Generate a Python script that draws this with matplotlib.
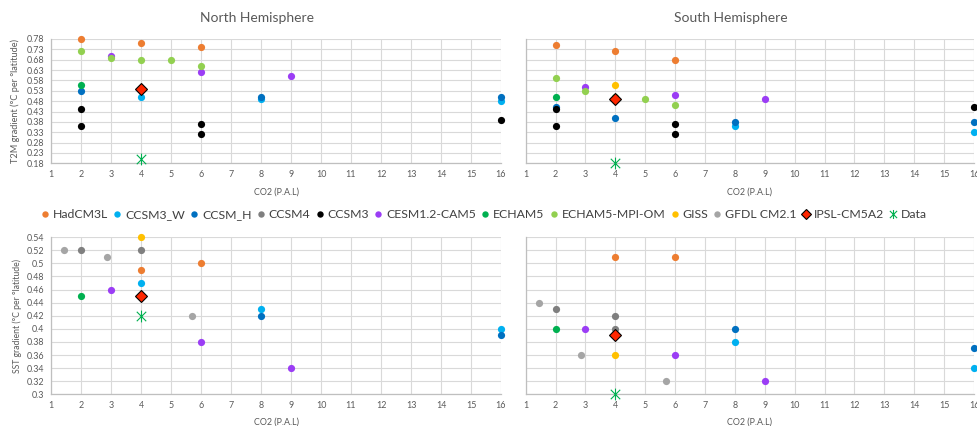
import matplotlib
matplotlib.use("Agg")
import matplotlib.pyplot as plt
from matplotlib.path import Path
from matplotlib.lines import Line2D
from matplotlib.ticker import FuncFormatter
import numpy as np

plt.rcParams['font.family'] = ['Lato', 'DejaVu Sans']

# ---- model list, legend order and colours ----
models = ["HadCM3L", "CCSM3_W", "CCSM_H", "CCSM4", "CCSM3", "CESM1.2-CAM5",
          "ECHAM5", "ECHAM5-MPI-OM", "GISS", "GFDL CM2.1", "IPSL-CM5A2", "Data"]
model_colors = ["#ED7D31", "#00B0F0", "#0070C0", "#7F7F7F", "#000000", "#9B3DF5",
                "#00B050", "#92D050", "#FFC000", "#A5A5A5", "#FF2600", "#00B050"]

# ---- T2M gradient, North Hemisphere ----
t2m_nh_model = ["HadCM3L", "HadCM3L", "HadCM3L",
                "CCSM3_W", "CCSM3_W", "CCSM3_W",
                "CCSM_H", "CCSM_H", "CCSM_H",
                "CCSM3", "CCSM3", "CCSM3", "CCSM3", "CCSM3",
                "CESM1.2-CAM5", "CESM1.2-CAM5", "CESM1.2-CAM5",
                "ECHAM5",
                "ECHAM5-MPI-OM", "ECHAM5-MPI-OM", "ECHAM5-MPI-OM", "ECHAM5-MPI-OM", "ECHAM5-MPI-OM",
                "IPSL-CM5A2", "Data"]
t2m_nh_co2 = [2, 4, 6,
              4, 8, 16,
              2, 8, 16,
              2, 2, 6, 6, 16,
              3, 6, 9,
              2,
              2, 3, 4, 5, 6,
              4, 4]
t2m_nh_val = [0.78, 0.76, 0.74,
              0.50, 0.49, 0.48,
              0.53, 0.50, 0.50,
              0.44, 0.36, 0.37, 0.32, 0.39,
              0.70, 0.62, 0.60,
              0.56,
              0.72, 0.69, 0.68, 0.68, 0.65,
              0.54, 0.20]

# ---- T2M gradient, South Hemisphere ----
t2m_sh_model = ["HadCM3L", "HadCM3L", "HadCM3L",
                "CCSM3_W", "CCSM3_W",
                "CCSM_H", "CCSM_H", "CCSM_H", "CCSM_H",
                "CCSM3", "CCSM3", "CCSM3", "CCSM3", "CCSM3",
                "CESM1.2-CAM5", "CESM1.2-CAM5", "CESM1.2-CAM5",
                "ECHAM5",
                "ECHAM5-MPI-OM", "ECHAM5-MPI-OM", "ECHAM5-MPI-OM", "ECHAM5-MPI-OM", "ECHAM5-MPI-OM",
                "GISS", "IPSL-CM5A2", "Data"]
t2m_sh_co2 = [2, 4, 6,
              8, 16,
              2, 4, 8, 16,
              2, 2, 6, 6, 16,
              3, 6, 9,
              2,
              2, 3, 4, 5, 6,
              4, 4, 4]
t2m_sh_val = [0.75, 0.72, 0.68,
              0.36, 0.33,
              0.45, 0.40, 0.38, 0.38,
              0.44, 0.36, 0.37, 0.32, 0.45,
              0.55, 0.51, 0.49,
              0.50,
              0.59, 0.53, 0.50, 0.49, 0.46,
              0.56, 0.49, 0.18]

# ---- SST gradient, North Hemisphere ----
sst_nh_model = ["HadCM3L", "HadCM3L",
                "CCSM3_W", "CCSM3_W", "CCSM3_W",
                "CCSM_H", "CCSM_H",
                "CCSM4", "CCSM4",
                "CESM1.2-CAM5", "CESM1.2-CAM5", "CESM1.2-CAM5",
                "ECHAM5", "GISS",
                "GFDL CM2.1", "GFDL CM2.1", "GFDL CM2.1",
                "IPSL-CM5A2", "Data"]
sst_nh_co2 = [4, 6,
              4, 8, 16,
              8, 16,
              2, 4,
              3, 6, 9,
              2, 4,
              1.43, 2.86, 5.71,
              4, 4]
sst_nh_val = [0.49, 0.50,
              0.47, 0.43, 0.40,
              0.42, 0.39,
              0.52, 0.52,
              0.46, 0.38, 0.34,
              0.45, 0.54,
              0.52, 0.51, 0.42,
              0.45, 0.42]

# ---- SST gradient, South Hemisphere ----
sst_sh_model = ["HadCM3L", "HadCM3L",
                "CCSM3_W", "CCSM3_W",
                "CCSM_H", "CCSM_H",
                "CCSM4", "CCSM4", "CCSM4",
                "CESM1.2-CAM5", "CESM1.2-CAM5", "CESM1.2-CAM5",
                "ECHAM5", "GISS",
                "GFDL CM2.1", "GFDL CM2.1", "GFDL CM2.1",
                "IPSL-CM5A2", "Data"]
sst_sh_co2 = [4, 6,
              8, 16,
              8, 16,
              2, 4, 4,
              3, 6, 9,
              2, 4,
              1.43, 2.86, 5.71,
              4, 4]
sst_sh_val = [0.51, 0.51,
              0.38, 0.34,
              0.40, 0.37,
              0.43, 0.42, 0.40,
              0.40, 0.36, 0.32,
              0.40, 0.36,
              0.44, 0.36, 0.32,
              0.39, 0.30]

co2_ticks = list(range(1, 17))
t2m_ticks = list(np.round(np.arange(0.18, 0.781, 0.05), 2))
sst_ticks = list(np.round(np.arange(0.30, 0.541, 0.02), 2))

# asterisk marker: an X with a vertical stroke
star = Path([(-1, -1), (1, 1), (-1, 1), (1, -1), (0, -1.25), (0, 1.25)],
            [Path.MOVETO, Path.LINETO, Path.MOVETO, Path.LINETO, Path.MOVETO, Path.LINETO])


def marker_style(name):
    color = model_colors[models.index(name)]
    if name == "IPSL-CM5A2":
        return dict(marker="D", markersize=6.2, markerfacecolor=color,
                    markeredgecolor="black", markeredgewidth=0.8)
    if name == "Data":
        return dict(marker=star, markersize=8.5, markerfacecolor="none",
                    markeredgecolor=color, markeredgewidth=0.8)
    return dict(marker="o", markersize=5.2, markerfacecolor=color,
                markeredgecolor=color, markeredgewidth=0)


def excel_fmt(v, pos=None):
    s = f"{v:.2f}"
    if s.endswith("0"):
        s = s[:-1]
    return s


W, H = 977, 426
fig = plt.figure(figsize=(W / 100, H / 100), dpi=100)

grid_c = "#D9D9D9"
spine_c = "#BFBFBF"
tick_c = "#595959"


def panel(rect, model, co2, val, yticks, show_y):
    ax = fig.add_axes(rect)
    ax.set_xlim(1, 16)
    ax.set_ylim(yticks[0], yticks[-1])
    ax.set_xticks(co2_ticks)
    ax.set_yticks(yticks)
    ax.yaxis.set_major_formatter(FuncFormatter(excel_fmt))
    ax.grid(True, color=grid_c, linewidth=0.8)
    ax.set_axisbelow(True)
    for s in ("top", "right"):
        ax.spines[s].set_visible(False)
    for s in ("left", "bottom"):
        ax.spines[s].set_color(spine_c)
        ax.spines[s].set_linewidth(0.9)
    ax.tick_params(length=0, labelsize=6.4, colors=tick_c, pad=5)
    if not show_y:
        ax.tick_params(labelleft=False)
    m = np.array(model)
    x = np.array(co2, dtype=float)
    y = np.array(val, dtype=float)
    for name in models:
        sel = m == name
        if sel.any():
            ax.plot(x[sel], y[sel], linestyle="none", clip_on=False, zorder=3,
                    **marker_style(name))
    return ax


left_x, left_w = 51 / W, 450 / W
right_x, right_w = 525.7 / W, 448.3 / W
top_y, top_h = 1 - 163.3 / H, 124.3 / H
bot_y, bot_h = 1 - 394.3 / H, 157.1 / H

ax1 = panel([left_x, top_y, left_w, top_h], t2m_nh_model, t2m_nh_co2, t2m_nh_val,
            t2m_ticks, True)
ax2 = panel([right_x, top_y, right_w, top_h], t2m_sh_model, t2m_sh_co2, t2m_sh_val,
            t2m_ticks, False)
ax3 = panel([left_x, bot_y, left_w, bot_h], sst_nh_model, sst_nh_co2, sst_nh_val,
            sst_ticks, True)
ax4 = panel([right_x, bot_y, right_w, bot_h], sst_sh_model, sst_sh_co2, sst_sh_val,
            sst_ticks, False)

# titles
fig.text(257 / W, 1 - 18 / H, "North Hemisphere", ha="center", va="center",
         fontsize=10, color="#595959")
fig.text(731 / W, 1 - 18 / H, "South Hemisphere", ha="center", va="center",
         fontsize=10, color="#595959")

# axis labels
for ax, yb in ((ax1, 192), (ax2, 192), (ax3, 422), (ax4, 422)):
    pos = ax.get_position()
    fig.text(pos.x0 + pos.width / 2, 1 - yb / H, "CO2 (P.A.L)", ha="center", va="center",
             fontsize=6.4, color=tick_c)
fig.text(15 / W, 1 - 101 / H, "T2M gradient (°C per °latitude)", rotation=90,
         ha="center", va="center", fontsize=6.6, color=tick_c)
fig.text(17 / W, 1 - 316 / H, "SST gradient (°C per °latitude)", rotation=90,
         ha="center", va="center", fontsize=6.2, color=tick_c)

# legend
handles = [Line2D([], [], linestyle="none", **marker_style(n)) for n in models]
for h, n in zip(handles, models):
    if n not in ("IPSL-CM5A2", "Data"):
        h.set_markersize(4.6)
    elif n == "IPSL-CM5A2":
        h.set_markersize(5)
    else:
        h.set_markersize(6.5)
fig.legend(handles, models, loc="center", bbox_to_anchor=(484 / W, 1 - 215 / H),
           ncol=len(models), frameon=False, fontsize=8.8, handlelength=0.7,
           handletextpad=0.3, columnspacing=0.4, borderaxespad=0,
           labelcolor="#404040")

fig.savefig("out.png", dpi=100)
